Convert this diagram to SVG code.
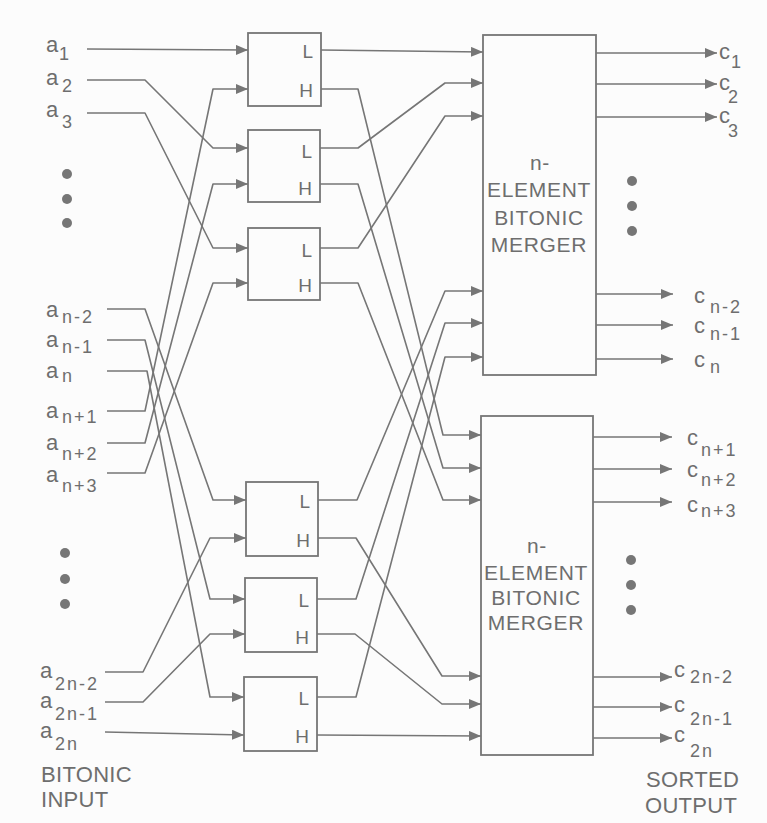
<svg xmlns="http://www.w3.org/2000/svg" width="767" height="823" viewBox="0 0 767 823">
<style>
.box{fill:none;stroke:#767676;stroke-width:1.8}
.ln{fill:none;stroke:#767676;stroke-width:1.6;stroke-linejoin:round}
.t{font-family:"Liberation Sans",Arial,sans-serif;fill:#6e6e6e}
.m{font-size:22px}
.s{font-size:18px;letter-spacing:2px}
.lh{font-size:19px;text-anchor:end}
.mg{font-size:21px;text-anchor:middle;letter-spacing:0.7px}
.cap{font-size:22px;letter-spacing:0.3px}
.dot{fill:#767676}
</style>
<defs>
<marker id="ah" markerUnits="userSpaceOnUse" markerWidth="13" markerHeight="10" refX="12" refY="5" orient="auto">
<path d="M0,0 L12,5 L0,10 z" fill="#767676"/>
</marker>
</defs>
<rect width="767" height="823" fill="#fcfcfc"/>

<g id="cmp1"><rect class="box" x="248" y="33" width="73" height="73"/><text class="t lh" x="313" y="58">L</text><text class="t lh" x="313" y="97">H</text></g>
<g id="cmp2"><rect class="box" x="248" y="130" width="72" height="72"/><text class="t lh" x="312" y="158">L</text><text class="t lh" x="312" y="195">H</text></g>
<g id="cmp3"><rect class="box" x="248" y="228" width="72" height="72"/><text class="t lh" x="312" y="257">L</text><text class="t lh" x="312" y="292">H</text></g>
<g id="cmp4"><rect class="box" x="246" y="482" width="72" height="74"/><text class="t lh" x="310" y="508">L</text><text class="t lh" x="310" y="547">H</text></g>
<g id="cmp5"><rect class="box" x="245" y="578" width="72" height="74"/><text class="t lh" x="309" y="607">L</text><text class="t lh" x="309" y="644">H</text></g>
<g id="cmp6"><rect class="box" x="244" y="677" width="73" height="74"/><text class="t lh" x="309" y="705">L</text><text class="t lh" x="309" y="743">H</text></g>

<g id="merger1"><rect class="box" x="483" y="35" width="113" height="340"/>
<text class="t mg" x="540" y="170">n-</text><text class="t mg" x="539" y="197">ELEMENT</text><text class="t mg" x="539" y="225">BITONIC</text><text class="t mg" x="539" y="252">MERGER</text></g>
<g id="merger2"><rect class="box" x="481" y="416" width="112" height="339"/>
<text class="t mg" x="537" y="553">n-</text><text class="t mg" x="536" y="580">ELEMENT</text><text class="t mg" x="536" y="605">BITONIC</text><text class="t mg" x="536" y="630">MERGER</text></g>

<g id="connectors">
<polyline class="ln" marker-end="url(#ah)" points="87,49 248,50"/>
<polyline class="ln" marker-end="url(#ah)" points="87,80 145,80 213,148 248,148"/>
<polyline class="ln" marker-end="url(#ah)" points="87,113 145,113 213,248 248,248"/>
<polyline class="ln" marker-end="url(#ah)" points="107,309 145,309 213,500 246,500"/>
<polyline class="ln" marker-end="url(#ah)" points="107,340 145,340 210,599 245,599"/>
<polyline class="ln" marker-end="url(#ah)" points="107,371 147,371 210,697 244,697"/>
<polyline class="ln" marker-end="url(#ah)" points="107,411 145,411 213,89 248,89"/>
<polyline class="ln" marker-end="url(#ah)" points="107,443 145,443 213,184 248,184"/>
<polyline class="ln" marker-end="url(#ah)" points="107,473 145,473 213,283 248,283"/>
<polyline class="ln" marker-end="url(#ah)" points="105,672 143,672 210,538 246,538"/>
<polyline class="ln" marker-end="url(#ah)" points="105,702 143,702 210,634 245,634"/>
<polyline class="ln" marker-end="url(#ah)" points="105,732 244,735"/>

<polyline class="ln" marker-end="url(#ah)" points="321,50 483,52"/>
<polyline class="ln" marker-end="url(#ah)" points="321,89 358,89 443,435 481,435"/>
<polyline class="ln" marker-end="url(#ah)" points="320,148 358,148 445,83 483,83"/>
<polyline class="ln" marker-end="url(#ah)" points="320,184 358,184 443,468 481,468"/>
<polyline class="ln" marker-end="url(#ah)" points="320,248 358,248 445,116 483,116"/>
<polyline class="ln" marker-end="url(#ah)" points="320,283 358,283 443,500 481,500"/>
<polyline class="ln" marker-end="url(#ah)" points="318,500 357,500 445,291 483,291"/>
<polyline class="ln" marker-end="url(#ah)" points="318,538 356,538 442,676 481,676"/>
<polyline class="ln" marker-end="url(#ah)" points="317,599 356,599 445,323 483,323"/>
<polyline class="ln" marker-end="url(#ah)" points="317,634 355,634 442,704 481,704"/>
<polyline class="ln" marker-end="url(#ah)" points="317,697 356,697 445,357 483,357"/>
<polyline class="ln" marker-end="url(#ah)" points="317,735 481,736"/>

<polyline class="ln" marker-end="url(#ah)" points="596,53 717,53"/>
<polyline class="ln" marker-end="url(#ah)" points="596,84 717,84"/>
<polyline class="ln" marker-end="url(#ah)" points="596,117 717,117"/>
<polyline class="ln" marker-end="url(#ah)" points="596,294 673,294"/>
<polyline class="ln" marker-end="url(#ah)" points="596,325 673,325"/>
<polyline class="ln" marker-end="url(#ah)" points="596,359 673,359"/>
<polyline class="ln" marker-end="url(#ah)" points="593,437 672,437"/>
<polyline class="ln" marker-end="url(#ah)" points="593,469 672,469"/>
<polyline class="ln" marker-end="url(#ah)" points="593,502 672,502"/>
<polyline class="ln" marker-end="url(#ah)" points="593,677 672,677"/>
<polyline class="ln" marker-end="url(#ah)" points="593,707 672,707"/>
<polyline class="ln" marker-end="url(#ah)" points="593,738 672,738"/>
</g>

<g id="inputs">
<text class="t m" x="46" y="52">a</text><text class="t s" x="59" y="60">1</text>
<text class="t m" x="46" y="85">a</text><text class="t s" x="62" y="92">2</text>
<text class="t m" x="46" y="117">a</text><text class="t s" x="62" y="128">3</text>
<circle class="dot" cx="67" cy="174" r="5"/><circle class="dot" cx="67" cy="199" r="5"/><circle class="dot" cx="67" cy="223" r="5"/>
<text class="t m" x="46" y="317">a</text><text class="t s" x="62" y="323">n-2</text>
<text class="t m" x="46" y="347">a</text><text class="t s" x="62" y="353">n-1</text>
<text class="t m" x="46" y="378">a</text><text class="t s" x="62" y="382">n</text>
<text class="t m" x="46" y="418">a</text><text class="t s" x="62" y="423">n+1</text>
<text class="t m" x="46" y="450">a</text><text class="t s" x="62" y="460">n+2</text>
<text class="t m" x="46" y="482">a</text><text class="t s" x="62" y="492">n+3</text>
<circle class="dot" cx="65" cy="553" r="5"/><circle class="dot" cx="65" cy="579" r="5"/><circle class="dot" cx="65" cy="604" r="5"/>
<text class="t m" x="40" y="678">a</text><text class="t s" x="55" y="690">2n-2</text>
<text class="t m" x="40" y="708">a</text><text class="t s" x="55" y="720">2n-1</text>
<text class="t m" x="40" y="738">a</text><text class="t s" x="55" y="750">2n</text>
<text class="t cap" x="41" y="782">BITONIC</text>
<text class="t cap" x="41" y="807">INPUT</text>
</g>

<g id="outputs">
<text class="t m" x="719" y="59">c</text><text class="t s" x="731" y="68">1</text>
<text class="t m" x="719" y="90">c</text><text class="t s" x="728" y="103">2</text>
<text class="t m" x="719" y="123">c</text><text class="t s" x="728" y="137">3</text>
<circle class="dot" cx="632" cy="181" r="5"/><circle class="dot" cx="632" cy="206" r="5"/><circle class="dot" cx="632" cy="231" r="5"/>
<text class="t m" x="694" y="303">c</text><text class="t s" x="710" y="313">n-2</text>
<text class="t m" x="694" y="333">c</text><text class="t s" x="710" y="340">n-1</text>
<text class="t m" x="694" y="367">c</text><text class="t s" x="710" y="373">n</text>
<text class="t m" x="687" y="445">c</text><text class="t s" x="701" y="456">n+1</text>
<text class="t m" x="687" y="477">c</text><text class="t s" x="701" y="486">n+2</text>
<text class="t m" x="687" y="512">c</text><text class="t s" x="701" y="517">n+3</text>
<circle class="dot" cx="631" cy="560" r="5"/><circle class="dot" cx="631" cy="585" r="5"/><circle class="dot" cx="631" cy="610" r="5"/>
<text class="t m" x="674" y="677">c</text><text class="t s" x="690" y="683">2n-2</text>
<text class="t m" x="674" y="712">c</text><text class="t s" x="690" y="725">2n-1</text>
<text class="t m" x="674" y="742">c</text><text class="t s" x="690" y="757">2n</text>
<text class="t cap" x="646" y="787">SORTED</text>
<text class="t cap" x="645" y="813">OUTPUT</text>
</g>
</svg>
